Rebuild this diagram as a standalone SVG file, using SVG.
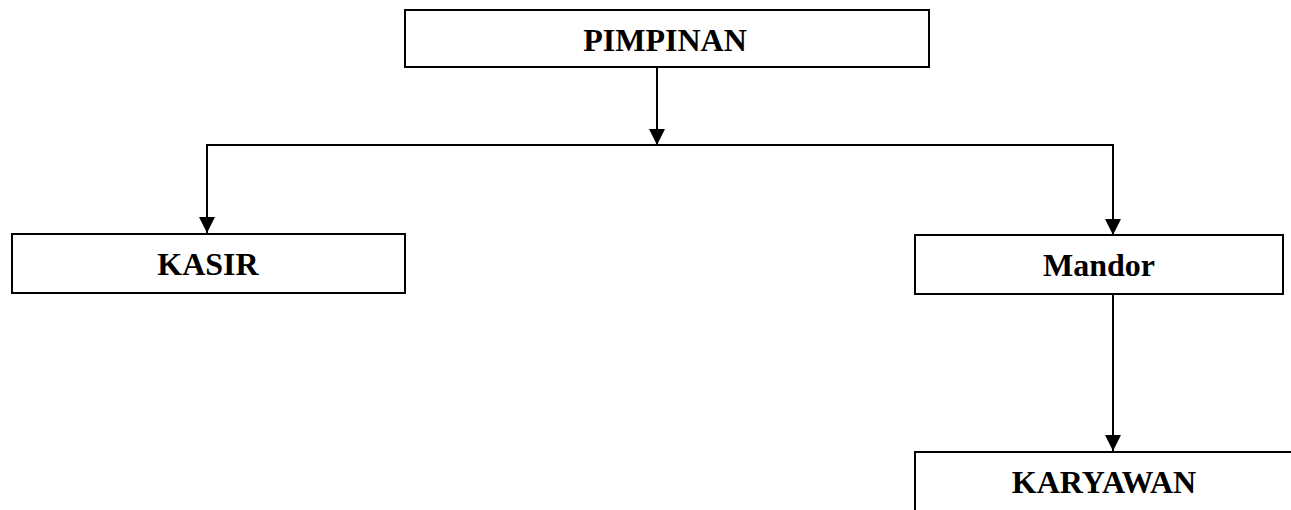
<svg xmlns="http://www.w3.org/2000/svg" width="1291" height="510" viewBox="0 0 1291 510">
<style>
.box{fill:#fff;stroke:#000;stroke-width:2}
.lbl{font-family:"Liberation Serif","Times New Roman",serif;font-weight:bold;font-size:32px;fill:#000;text-anchor:middle}
.con{fill:none;stroke:#000;stroke-width:2}
</style>
<defs>
<marker id="arr" markerUnits="userSpaceOnUse" markerWidth="16" markerHeight="17" refX="16" refY="8" orient="auto" viewBox="0 0 16 16">
<path d="M0,0 L16,8 L0,16 Z" fill="#000"/>
</marker>
</defs>
<g id="connectors">
<line class="con" x1="657" y1="68" x2="657" y2="145" marker-end="url(#arr)"/>
<polyline class="con" points="207,233 207,145 1113,145 1113,235" marker-end="url(#arr)" />
<line class="con" x1="207" y1="145" x2="207" y2="233" marker-end="url(#arr)"/>
<line class="con" x1="1113" y1="294" x2="1113" y2="451" marker-end="url(#arr)"/>
</g>
<g id="pimpinan">
<rect class="box" x="405" y="10" width="524" height="57"/>
<text class="lbl" x="665" y="51">PIMPINAN</text>
</g>
<g id="kasir">
<rect class="box" x="12" y="234" width="393" height="59"/>
<text class="lbl" x="208" y="275">KASIR</text>
</g>
<g id="mandor">
<rect class="box" x="915" y="235" width="368" height="59"/>
<text class="lbl" x="1099" y="276">Mandor</text>
</g>
<g id="karyawan">
<rect class="box" x="915" y="452" width="380" height="70"/>
<text class="lbl" x="1104" y="493">KARYAWAN</text>
</g>
</svg>
